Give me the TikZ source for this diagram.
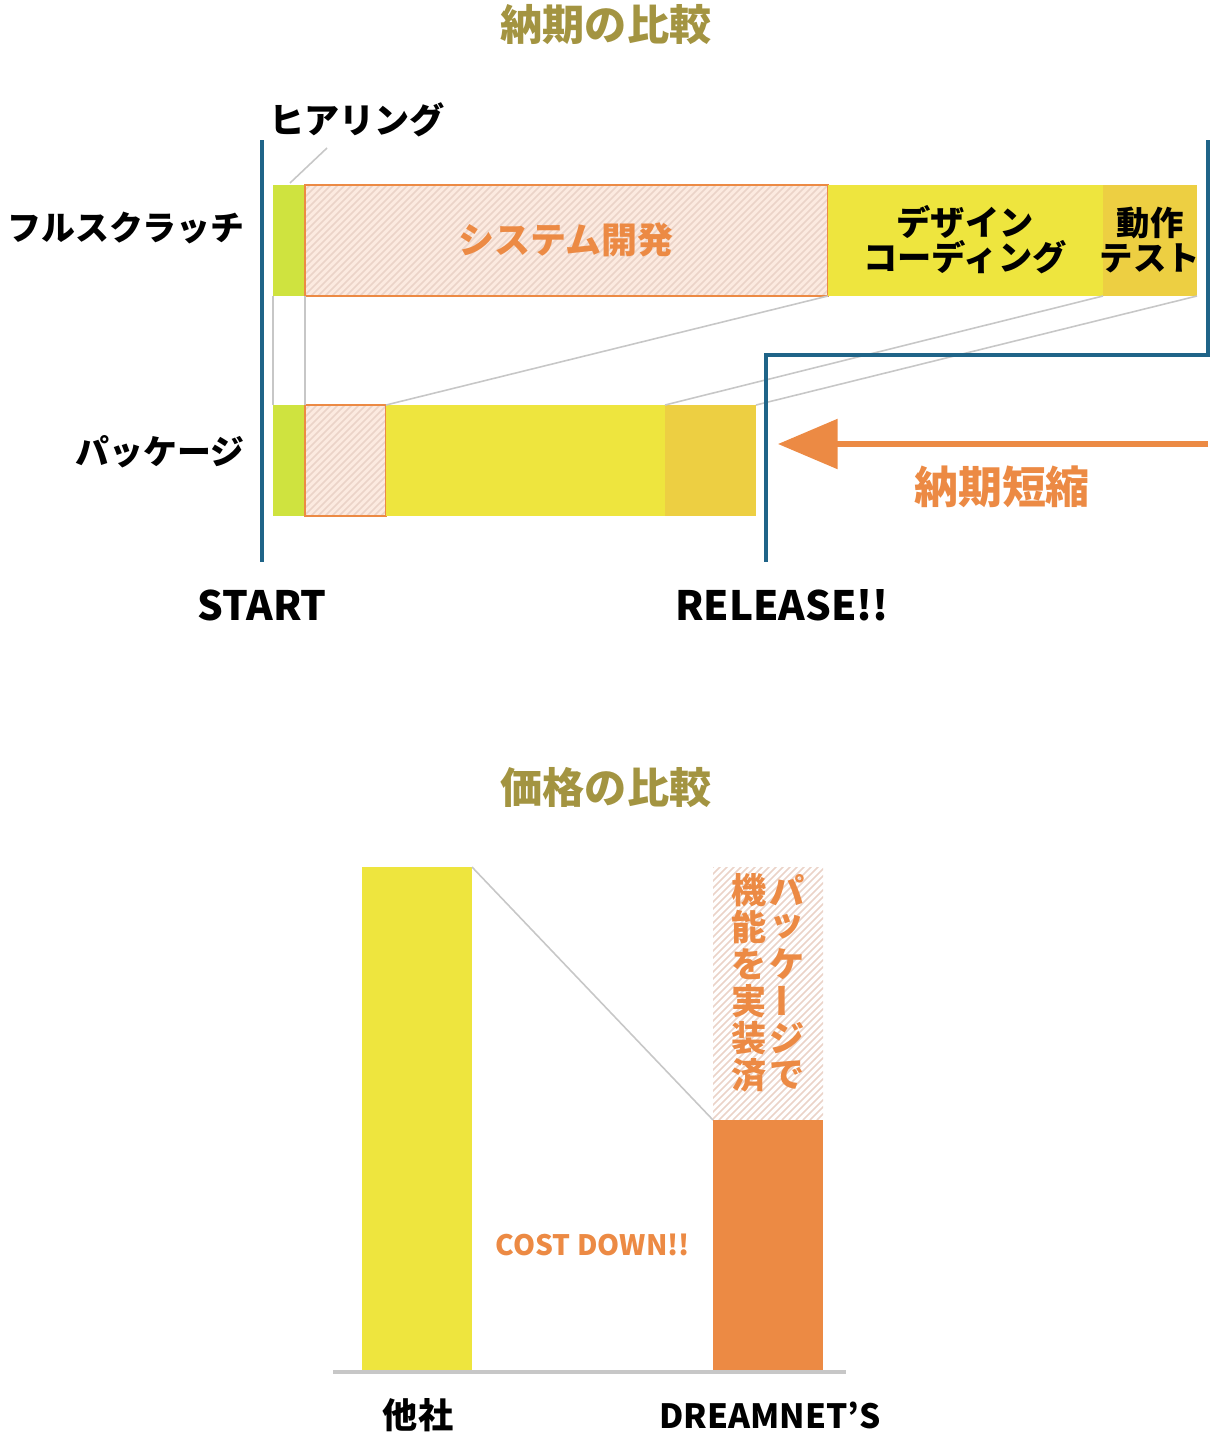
\documentclass[tikz,border=0pt]{standalone}
\usepackage{fontspec}
\setmainfont{Noto Sans CJK JP}
\usepackage{xcolor}
\definecolor{olive-title}{HTML}{A39441}
\definecolor{line-blue}{HTML}{1F6488}
\definecolor{bar-green}{HTML}{CFE33F}
\definecolor{bar-yellow}{HTML}{EEE53E}
\definecolor{bar-gold}{HTML}{EDCF42}
\definecolor{bar-orange}{HTML}{EC8A44}
\definecolor{pale-orange}{HTML}{FCEAE0}
\definecolor{hatch-line}{HTML}{EBD3C8}
\usetikzlibrary{arrows.meta}
\tikzset{title/.style = {font=\fontsize{24}{26}\bfseries, text=olive-title}}
\tikzset{label/.style = {font=\fontsize{20}{22}\bfseries, text=black}}
\tikzset{axislabel/.style = {font=\fontsize{23}{25}\bfseries, text=black}}
\tikzset{otext/.style = {font=\fontsize{20.5}{22}\bfseries, text=bar-orange}}
\tikzset{vchar/.style = {font=\fontsize{20}{21}\bfseries, text=bar-orange, inner sep=0}}
\tikzset{guide/.style = {draw=black!22, line width=0.9pt}}
\tikzset{bound/.style = {draw=line-blue, line width=2pt}}
\newcommand{\hatchbox}[4]{%
  \begin{scope}
    \clip (#1,#2) rectangle (#3,#4);
    \foreach \k in {-400,-393,...,700}
      \draw[hatch-line, line width=0.9pt] (#1+\k,#4) -- ++(600,-600);
  \end{scope}}

\begin{document}
\begin{tikzpicture}[x=0.02cm, y=-0.02cm]
\useasboundingbox (0,0) rectangle (1212,1440);

% ---- delivery comparison
\node[title] (t1) at (606,25) {納期の比較};

% row 1: full scratch
\fill[bar-green]  (273,185) rectangle (305,296);
\fill[pale-orange] (305,185) rectangle (828,296);
\hatchbox{305}{185}{828}{296}
\draw[bar-orange, line width=1.2pt] (305,185) rectangle (828,296);
\fill[bar-yellow] (828,185) rectangle (1103,296);
\fill[bar-gold]   (1103,185) rectangle (1197,296);

% row 2: package
\fill[bar-green]  (273,405) rectangle (305,516);
\fill[pale-orange] (305,405) rectangle (386,516);
\hatchbox{305}{405}{386}{516}
\draw[bar-orange, line width=1.2pt] (305,405) rectangle (386,516);
\fill[bar-yellow] (386,405) rectangle (665,516);
\fill[bar-gold]   (665,405) rectangle (756,516);

% guide lines between rows
\draw[guide] (273,296) -- (273,405);
\draw[guide] (305,296) -- (305,405);
\draw[guide] (828,296) -- (386,405);
\draw[guide] (1103,296) -- (665,405);
\draw[guide] (1197,296) -- (756,405);

\node[otext] (dev) at (566,240) {システム開発};
\node[label, align=center, font=\fontsize{19.5}{20}\bfseries] (design) at (965,240) {デザイン\\コーディング};
\node[label, align=center, font=\fontsize{19}{20}\bfseries] (test) at (1150,240) {動作\\テスト};

\node[label] (hear) at (357,120) {ヒアリング};
\draw[guide] (290,183) -- (327,148);

\node[label, anchor=east, inner sep=0, font=\fontsize{19.3}{21}\bfseries] (full) at (245,228) {フルスクラッチ};
\node[label, anchor=east, inner sep=0, font=\fontsize{19.3}{21}\bfseries] (pkg) at (245,452) {パッケージ};

% start / release bounds
\draw[bound] (262,140) -- (262,562);
\draw[bound] (1208,140) -- (1208,355) -- (766,355) -- (766,562);
\node[axislabel] (start) at (262,605) {START};
\node[axislabel] (release) at (782,605) {RELEASE!!};

\coordinate (arrR) at (1208,444);
\coordinate (arrL) at (778,444);
\draw[bar-orange, line width=3pt, -{Triangle[length=34pt,width=28pt]}] (arrR) -- (arrL);
\node[otext, font=\fontsize{25}{27}\bfseries] (short) at (1002,487) {納期短縮};

% ---- price comparison
\node[title] (t2) at (606,788) {価格の比較};

\fill[bar-yellow] (362,867) rectangle (472,1370);
\hatchbox{713}{867}{823}{1120}
\fill[bar-orange] (713,1120) rectangle (823,1370);
\draw[guide] (472,867) -- (713,1120);
\draw[black!22, line width=2.5pt] (333,1372) -- (846,1372);

\node[otext, font=\fontsize{16}{18}\bfseries] (cost) at (593,1245) {COST DOWN!!};
\node[axislabel, font=\fontsize{20}{22}\bfseries] (other) at (418,1415) {他社};
\node[axislabel, font=\fontsize{19}{22}\bfseries] (dream) at (770,1415) {DREAMNET’S};

% vertical caption
\foreach \c/\r [count=\i] in {パ/0,ッ/0,ケ/0,ー/90,ジ/0,で/0}
  \node[vchar, rotate=\r] (r\i) at (787,867+37*\i-14) {\c};
\foreach \c [count=\i] in {機,能,を,実,装,済}
  \node[vchar] (l\i) at (749,867+37*\i-14) {\c};

\end{tikzpicture}
\end{document}
